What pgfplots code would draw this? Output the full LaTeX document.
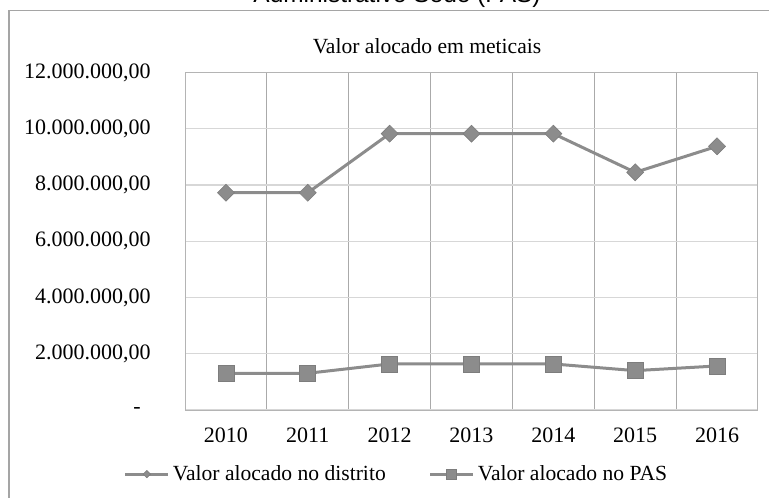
\documentclass[border=0pt]{standalone}
\usepackage{fontspec}
\setmainfont{Liberation Serif}
\newfontfamily\arialfont{Liberation Sans}
\usepackage{pgfplots}
\pgfplotsset{compat=1.18}
\definecolor{framegray}{RGB}{165,165,165}
\definecolor{plotborder}{RGB}{180,180,180}
\definecolor{vgrid}{RGB}{170,170,170}
\definecolor{hgrid}{RGB}{215,215,215}
\definecolor{sergray}{RGB}{140,140,140}
\definecolor{markedge}{RGB}{125,125,125}
\begin{document}
\begin{tikzpicture}
\useasboundingbox (0,0) rectangle (384.5pt,-248.5pt);
\begin{scope}[x=0.5pt,y=-0.5pt]
\draw[color=framegray, line width=0.75pt] (9,540) -- (9,10.5) -- (820,10.5);
\node[font=\arialfont\fontsize{12.2}{14}\selectfont, anchor=base, inner sep=0pt] at (397,3) {Administrativo Sede (PAS)};
\node[font=\fontsize{10.8}{13}\selectfont, anchor=center, inner sep=0pt] at (427,46) {Valor alocado em meticais};
\end{scope}
\begin{axis}[
  at={(92.5pt,-205pt)}, anchor=south west,
  scale only axis, width=286.5pt, height=168.75pt,
  xmin=-0.5, xmax=6.5, ymin=0, ymax=12000000,
  xtick={0,1,2,3,4,5,6},
  xticklabels={2010,2011,2012,2013,2014,2015,2016},
  minor xtick={0.5,1.5,2.5,3.5,4.5,5.5},
  ytick={0,2000000,4000000,6000000,8000000,10000000,12000000},
  yticklabels={{-\hspace*{5pt}},{2.000.000,00},{4.000.000,00},{6.000.000,00},{8.000.000,00},{10.000.000,00},{12.000.000,00}},
  major tick length=0pt, minor tick length=0pt,
  tick style={draw=none},
  xminorgrids, ymajorgrids,
  minor grid style={draw=vgrid, line width=0.5pt},
  major grid style={draw=hgrid, line width=0.6pt},
  axis line style={draw=plotborder, line width=0.5pt},
  tick label style={font=\fontsize{11}{13}\selectfont},
  yticklabel style={anchor=east, inner sep=0pt, xshift=-17pt},
  xticklabel style={anchor=north, inner sep=0pt, yshift=-8.5pt},
  scaled y ticks=false,
  clip=false,
  legend columns=2,
  legend style={at={(0.370,-0.190)}, anchor=center, draw=none, fill=none,
    font=\fontsize{10.8}{13}\selectfont, inner sep=0pt,
    /tikz/every even column/.append style={column sep=20pt},
    nodes={inner sep=1.5pt}},
  legend image code/.code={\draw[mark repeat=2,mark phase=2,#1] plot coordinates {(0pt,0pt) (10.75pt,0pt) (21.5pt,0pt)};},
]
\addplot[color=sergray, line width=1.5pt, mark=square*, mark size=3pt,
  mark options={solid, rotate=45, fill=sergray, draw=markedge, line width=0.3pt},
  legend image post style={mark size=1.3pt}]
  coordinates {(0,7725000) (1,7725000) (2,9825000) (3,9825000) (4,9825000) (5,8450000) (6,9375000)};
\addlegendentry{Valor alocado no distrito}
\addplot[color=sergray, line width=1.5pt, mark=square*, mark size=4pt,
  mark options={solid, fill=sergray, draw=markedge, line width=0.3pt},
  legend image post style={mark size=2.5pt}]
  coordinates {(0,1306000) (1,1306000) (2,1637000) (3,1637000) (4,1637000) (5,1400000) (6,1566000)};
\addlegendentry{Valor alocado no PAS}
\end{axis}
\end{tikzpicture}
\end{document}
